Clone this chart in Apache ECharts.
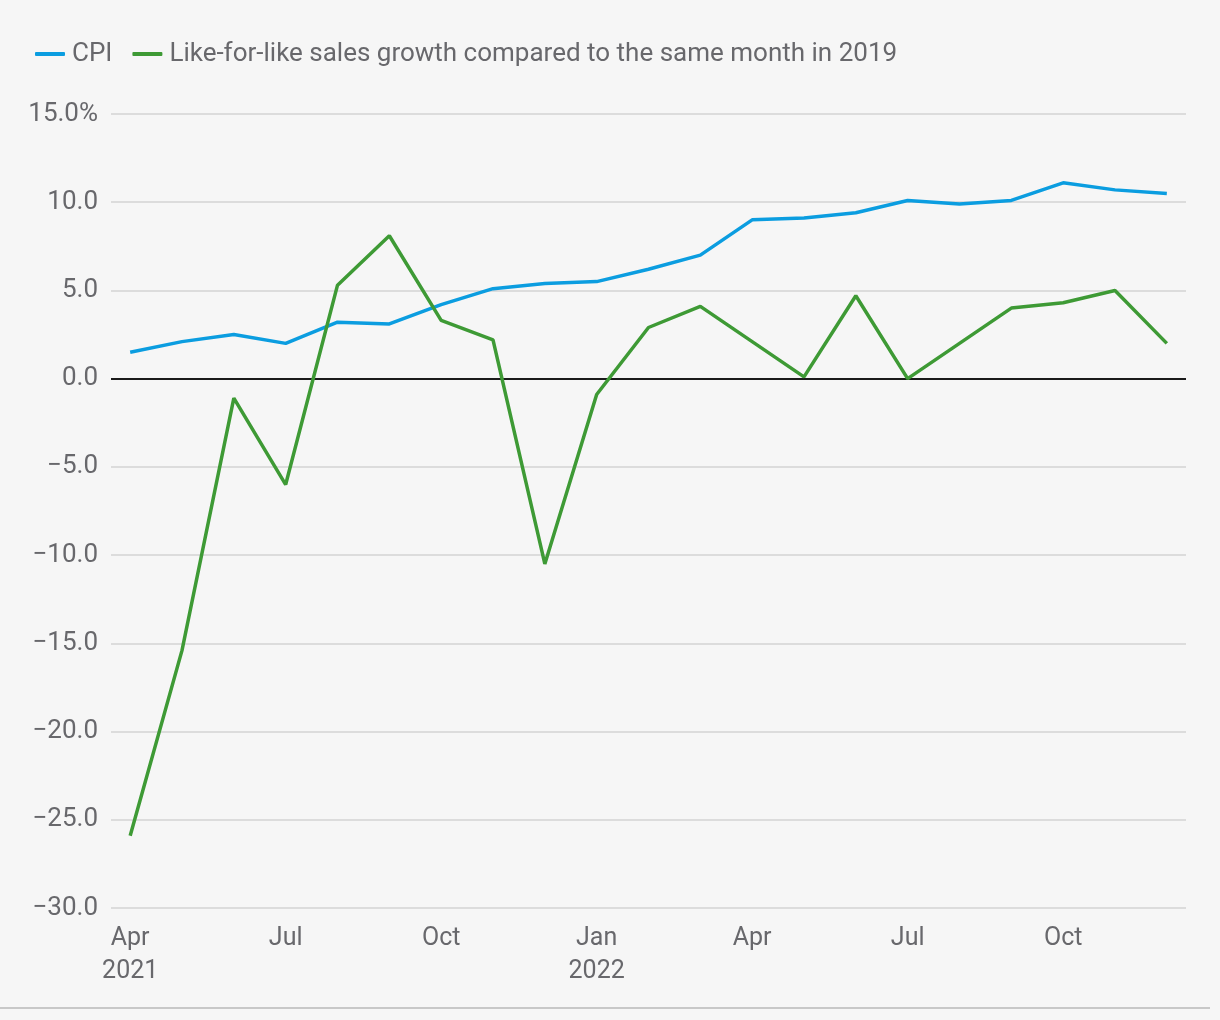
<!DOCTYPE html>
<html>
<head>
<meta charset="utf-8">
<script src="https://cdn.jsdelivr.net/npm/echarts@6/dist/echarts.min.js"></script>
<style>
html,body{margin:0;padding:0;background:#f6f6f6;}
#chart{width:1220px;height:1020px;}
</style>
</head>
<body>
<div id="chart"></div>
<script>
const months = ["Apr","May","Jun","Jul","Aug","Sep","Oct","Nov","Dec","Jan","Feb","Mar","Apr","May","Jun","Jul","Aug","Sep","Oct","Nov","Dec"];
const years = {0:"2021", 9:"2022"};
const labelIndices = [0,3,6,9,12,15,18];
const cpi = [1.5,2.1,2.5,2.0,3.2,3.1,4.2,5.1,5.4,5.5,6.2,7.0,9.0,9.1,9.4,10.1,9.9,10.1,11.1,10.7,10.5];
const lfl = [-25.9,-15.4,-1.1,-6.0,5.3,8.1,3.3,2.2,-10.5,-0.9,2.9,4.1,2.1,0.1,4.7,0.0,2.0,4.0,4.3,5.0,2.0];
const seriesNames = ["CPI","Like-for-like sales growth compared to the same month in 2019"];

const chart = echarts.init(document.getElementById('chart'));
const font = 'Roboto';
const txt = '#68686c';
chart.setOption({
  backgroundColor:'#f6f6f6',
  textStyle:{fontFamily:font},
  legend:{
    left:30, top:36, itemWidth:30, itemHeight:4, itemGap:20,
    icon:'roundRect',
    textStyle:{fontSize:26, color:txt, fontFamily:font, padding:[0,0,0,2]},
    data:seriesNames
  },
  grid:{left:111, right:34, top:114, bottom:112, containLabel:false},
  xAxis:{
    type:'value', min:-0.37, max:20.37,
    axisLine:{show:false}, axisTick:{show:false}, splitLine:{show:false},
    axisLabel:{
      customValues:labelIndices,
      fontSize:25, color:txt, lineHeight:33, margin:14, fontFamily:font,
      formatter:function(v){const i=Math.round(v);return months[i]+(years[i]?"\n"+years[i]:"");}
    }
  },
  yAxis:{
    type:'value', min:-30, max:15, interval:5,
    axisLine:{show:false}, axisTick:{show:false},
    splitLine:{lineStyle:{color:'#dcdcdc', width:2}},
    axisLabel:{
      fontSize:26, color:txt, margin:13, fontFamily:font,
      formatter:function(v){let s=Math.abs(v).toFixed(1);if(v<0)s='\u2212'+s;if(v===15)s+='%';return s;}
    }
  },
  series:[
    {name:seriesNames[0], type:'line', data:cpi.map((v,i)=>[i,v]), symbol:'none',
     lineStyle:{color:'#0b9de0', width:3.5}, itemStyle:{color:'#0b9de0'}, z:3,
     markLine:{silent:true, symbol:'none', label:{show:false},
       lineStyle:{color:'#1a1a1a', width:2, type:'solid'}, data:[{yAxis:0}], z:1}},
    {name:seriesNames[1], type:'line', data:lfl.map((v,i)=>[i,v]), symbol:'none',
     lineStyle:{color:'#3e9a35', width:3.5}, itemStyle:{color:'#3e9a35'}, z:4}
  ],
  graphic:[{type:'line', shape:{x1:0,y1:1008,x2:1210,y2:1008}, style:{stroke:'#c8c8c8', lineWidth:2}}]
});
</script>
</body>
</html>
